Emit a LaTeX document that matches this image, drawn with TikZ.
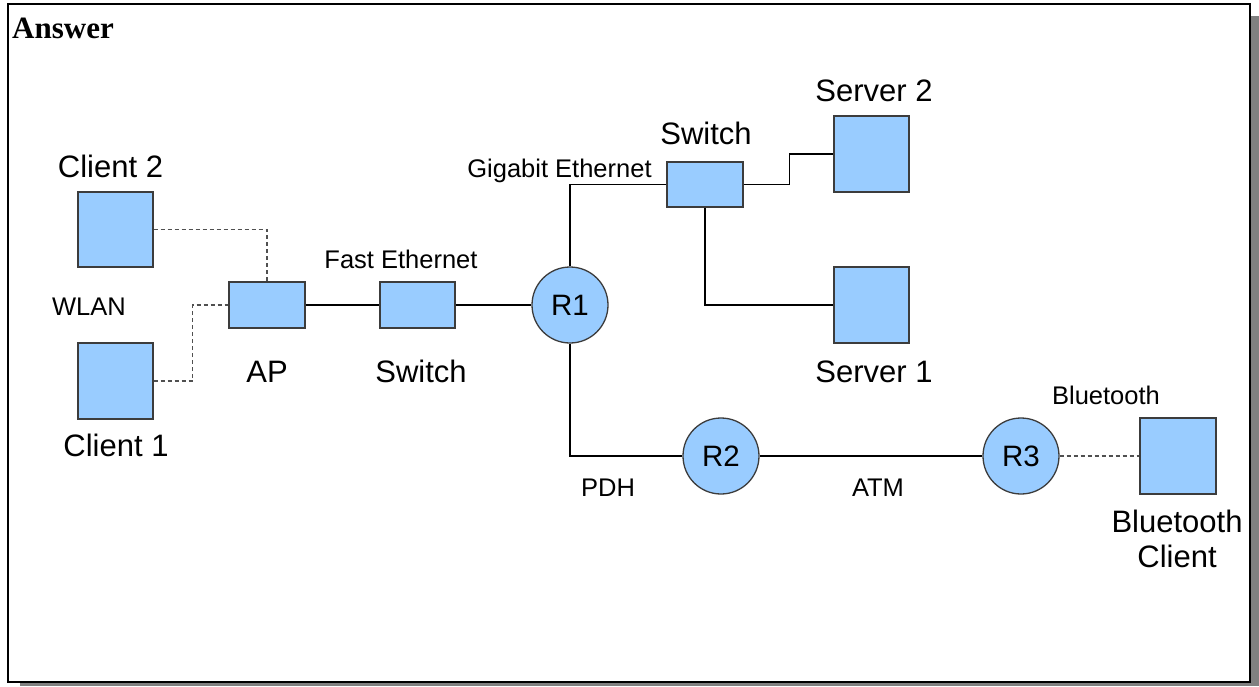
\documentclass[tikz,border=0pt]{standalone}
\usepackage{fontspec}
\setmainfont{Liberation Sans}
\newfontfamily\serifbold{Liberation Serif}
\definecolor{devblue}{HTML}{99CCFF}
\definecolor{devedge}{HTML}{3C3C3C}
\definecolor{shadowgray}{HTML}{808080}
\definecolor{wlgray}{HTML}{505050}
\begin{document}
\begin{tikzpicture}[x=1pt,y=-1pt,
  devbox/.style={draw=devedge,fill=devblue,line width=1.3pt,inner sep=0pt,minimum width=#1},
  router/.style={circle,draw=devedge,fill=devblue,line width=1.3pt,inner sep=0pt,minimum size=76pt,font=\fontsize{29.5}{31}\selectfont},
  bigtxt/.style={anchor=base,inner sep=0pt,font=\fontsize{31}{35}\selectfont},
  smalltxt/.style={anchor=base,inner sep=0pt,font=\fontsize{25.5}{28}\selectfont},
  wire/.style={draw=black,line width=1.1pt},
  radio/.style={draw=wlgray,line width=1.1pt,dash pattern=on 4pt off 3pt}]
\useasboundingbox (0,0) rectangle (1259,686);
\fill[shadowgray] (20,16) rectangle (1259,686);
\draw[fill=white,line width=2pt] (8,4) rectangle (1250,682);
\node[anchor=base west,inner sep=0pt,font=\serifbold\bfseries\fontsize{31}{34}\selectfont] (title) at (12,38) {Answer};

% devices
\node[devbox=75pt,minimum height=75pt] (client2) at (115.5,229.5) {};
\node[devbox=75pt,minimum height=76pt] (client1) at (115.5,381) {};
\node[devbox=76pt,minimum height=46pt] (ap) at (267,305) {};
\node[devbox=75pt,minimum height=46pt] (sw1) at (417.5,305) {};
\node[router] (r1) at (570,305) {R1};
\node[devbox=76pt,minimum height=45pt] (sw2) at (705,184.5) {};
\node[devbox=75pt,minimum height=76pt] (srv2) at (871.5,154) {};
\node[devbox=75pt,minimum height=76pt] (srv1) at (871.5,305) {};
\node[router] (r2) at (721,456) {R2};
\node[router] (r3) at (1021,456) {R3};
\node[devbox=76pt,minimum height=76pt] (btc) at (1178,456) {};

% connectors
\draw[radio] (client2.east) -| (ap.north);
\draw[radio] (client1.east) -- ++(39,0) |- (ap.west);
\draw[wire] (ap.east) -- (sw1.west);
\draw[wire] (sw1.east) -- (r1.west);
\draw[wire] (r1.north) |- (sw2.west);
\draw[wire] (sw2.east) -- ++(46,0) |- (srv2.west);
\draw[wire] (sw2.south) |- (srv1.west);
\draw[wire] (r1.south) |- (r2.west);
\draw[wire] (r2.east) -- (r3.west);
\draw[radio] (r3.east) -- (btc.west);

% labels
\node[bigtxt] (lc2) at (110.5,177) {Client 2};
\node[bigtxt] (lc1) at (116,456) {Client 1};
\node[smalltxt] (lwlan) at (89,315) {WLAN};
\node[bigtxt] (lap) at (267,382) {AP};
\node[bigtxt] (lsw1) at (421,382) {Switch};
\node[smalltxt] (lfe) at (401,268) {Fast Ethernet};
\node[smalltxt] (lge) at (559.5,177) {Gigabit Ethernet};
\node[bigtxt] (lsw2) at (706,144) {Switch};
\node[bigtxt] (lsrv2) at (874,101) {Server 2};
\node[bigtxt] (lsrv1) at (874,382) {Server 1};
\node[smalltxt] (lbt) at (1106,404) {Bluetooth};
\node[smalltxt] (lpdh) at (608,496) {PDH};
\node[smalltxt] (latm) at (878,496) {ATM};
\node[bigtxt] (lbtc1) at (1177,532) {Bluetooth};
\node[bigtxt] (lbtc2) at (1177,567) {Client};
\end{tikzpicture}
\end{document}
